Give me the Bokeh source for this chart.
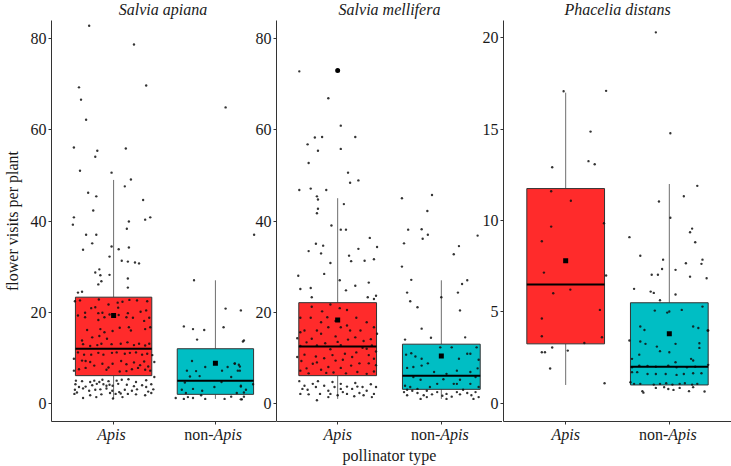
from bokeh.plotting import figure
from bokeh.models import Range1d, FixedTicker
from bokeh.layouts import row, column
from bokeh.core.properties import value
from bokeh.embed import file_html
from bokeh.resources import INLINE

FONT = "Liberation Serif"

categories = ["Apis", "non-Apis"]
species = ["Salvia apiana", "Salvia mellifera", "Phacelia distans"]
x_title = "pollinator type"
y_title = "flower visits per plant"
cat_pos = [1, 2]
box_colors = ["#FF2B2B", "#00BEC4"]

# box statistics [Apis, non-Apis]
sa_q1 = [6.1, 2.0]; sa_med = [12.0, 5.0]; sa_q3 = [23.3, 12.0]
sa_lo = [1.0, 1.0]; sa_hi = [49.0, 27.0]; sa_mean = [19.3, 8.8]

sm_q1 = [6.1, 3.1]; sm_med = [12.5, 6.1]; sm_q3 = [22.1, 13.0]
sm_lo = [1.0, 1.0]; sm_hi = [45.0, 27.0]; sm_mean = [18.3, 10.4]
sm_outlier_cat = [1]; sm_outlier_v = [73.0]

pd_q1 = [3.25, 1.0]; pd_med = [6.5, 2.0]; pd_q3 = [11.75, 5.5]
pd_lo = [1.0, 1.0]; pd_hi = [17.0, 12.0]; pd_mean = [7.8, 3.8]

# jittered observations: (jitter offset, visits)
sa_apis_pts = [
    (-0.24, 82.8), (0.2, 78.7), (-0.34, 69.3), (0.32, 69.7), (-0.32, 66.6), (-0.27, 62.2), (-0.39, 56.1),
    (0.12, 55.9), (-0.16, 55.4), (-0.18, 54.1), (-0.33, 51.0), (-0.02, 50.6), (0.17, 49.1), (0.11, 47.6),
    (-0.25, 46.2), (-0.17, 45.4), (0.29, 44.6), (-0.2, 42.3), (-0.39, 40.8), (0.36, 40.8), (0.31, 40.3),
    (0.15, 39.9), (-0.4, 39.2), (0.13, 38.3), (-0.27, 37.0), (-0.17, 37.0), (-0.21, 35.1), (-0.02, 34.4),
    (0.15, 34.2), (-0.3, 33.7), (0.05, 33.8), (-0.04, 32.2), (0.08, 31.3), (0.14, 31.1), (0.21, 30.9),
    (0.25, 30.7), (-0.14, 29.4), (-0.18, 28.7), (-0.04, 28.2), (-0.13, 28.1), (0.14, 27.4), (-0.12, 26.8),
    (-0.15, 26.1), (0.14, 25.4), (-0.35, 24.3), (-0.31, 24.5),
    (-0.38, 22.4), (-0.33, 22.6), (-0.22, 20.9), (-0.18, 21.1), (-0.145, 22.8), (-0.05, 21.7), (0.04, 22.1),
    (0.087, 22.3), (0.155, 22.7), (0.23, 22.6), (0.33, 22.4), (-0.28, 19.9), (-0.15, 19.8), (-0.11, 19.9),
    (0.045, 21.0), (0.05, 19.4), (0.14, 19.8), (0.265, 20.1), (0.32, 20.4), (0.35, 18.8), (-0.35, 19.3),
    (-0.28, 18.9), (-0.15, 18.3), (-0.09, 18.9), (-0.04, 19.5), (0.126, 18.9), (0.19, 18.8), (0.30, 18.1),
    (0.36, 16.7), (-0.26, 16.1), (-0.13, 16.3), (-0.09, 15.6), (-0.01, 15.9), (0.06, 16.6), (0.15, 16.7),
    (0.17, 16.0), (0.31, 16.3), (-0.21, 14.5), (-0.14, 14.8), (-0.065, 14.2), (-0.31, 13.8), (-0.30, 13.0),
    (-0.23, 12.6), (-0.16, 12.8), (-0.12, 13.1), (-0.02, 13.0), (0.07, 13.1), (0.136, 13.4), (0.2, 12.8),
    (0.25, 13.1), (0.31, 12.7), (0.35, 13.1), (-0.35, 11.2), (-0.29, 10.7), (-0.22, 10.7), (-0.15, 11.1),
    (-0.10, 10.7), (-0.016, 11.1), (0.03, 11.2), (0.11, 10.9), (0.16, 11.1), (0.22, 11.2), (0.28, 10.7),
    (0.33, 10.9), (0.38, 10.6), (-0.39, 9.8), (-0.31, 9.4), (-0.275, 9.3), (-0.23, 9.1), (-0.19, 8.3),
    (-0.11, 8.7), (-0.05, 7.9), (-0.01, 8.7), (0.074, 9.3), (0.126, 8.6), (0.2, 9.0), (0.26, 8.4),
    (0.30, 9.2), (0.34, 8.1), (0.36, 7.2), (-0.39, 7.2), (-0.34, 7.5), (-0.275, 7.8), (-0.07, 7.4),
    (0.06, 7.0), (0.126, 7.1), (0.18, 7.5), (0.24, 7.8), (0.31, 7.4), (0.40, 9.1),
    (-0.37, 5.0), (-0.31, 4.9), (-0.23, 4.7), (-0.19, 5.0), (-0.14, 4.7), (-0.11, 5.2), (-0.05, 4.9),
    (0.03, 5.0), (0.08, 5.2), (0.146, 5.3), (0.22, 4.7), (0.32, 5.1), (0.40, 5.8), (-0.375, 4.2),
    (-0.34, 3.6), (-0.275, 3.7), (-0.21, 4.0), (-0.165, 4.3), (-0.10, 4.2), (-0.07, 3.9), (-0.04, 4.1),
    (-0.01, 3.9), (0.045, 4.3), (0.13, 4.1), (0.2, 3.8), (0.28, 4.0), (0.32, 3.6), (0.37, 4.2),
    (-0.38, 3.0), (-0.30, 3.3), (-0.24, 2.8), (-0.18, 3.0), (-0.13, 3.1), (-0.07, 3.3), (-0.013, 2.8),
    (0.055, 2.5), (0.11, 3.0), (0.18, 2.8), (0.23, 3.1), (0.34, 2.6), (0.39, 3.1), (-0.385, 2.1),
    (-0.36, 2.4), (-0.30, 1.2), (-0.23, 1.8), (-0.12, 2.0), (-0.035, 2.3), (0.02, 2.1), (0.07, 2.2),
    (0.14, 2.1), (0.22, 2.0), (0.31, 1.8), (0.37, 2.3), (-0.17, 1.4), (0.087, 1.4), (-0.006, 1.1),
]
sa_non_pts = [
    (0.1, 64.9), (0.38, 37.0), (-0.21, 27.0), (0.1, 20.8), (0.25, 20.4), (-0.31, 16.9), (-0.22, 16.3),
    (-0.11, 16.1), (0.08, 16.7), (-0.18, 14.0), (0.28, 13.8), (0.27, 13.6),
    (-0.23, 9.3), (-0.28, 7.2), (-0.19, 7.1), (-0.155, 6.0), (-0.25, 5.9), (-0.3, 4.6), (-0.22, 3.2),
    (-0.33, 3.0), (-0.29, 2.3), (-0.13, 2.8), (0.065, 7.2), (0.12, 8.0), (0.19, 8.7), (0.23, 8.5),
    (0.24, 7.2), (0.155, 5.8), (0.25, 3.7), (0.3, 3.0), (0.21, 2.3), (-0.01, 3.6), (-0.1, 8.0),
    (0.06, 4.7), (0.19, 8.8), (0.24, 8.1), (0.22, 7.2), (0.37, 4.2), (0.25, 3.9), (0.28, 2.4),
    (0.26, 0.9), (0.28, 1.5),
    (-0.39, 1.2), (-0.31, 1.0), (-0.22, 1.2), (-0.1, 1.0), (0.09, 1.0), (0.25, 0.9), (-0.14, 1.8),
    (-0.27, 1.4), (0.155, 1.5),
]
sm_apis_pts = [
    (-0.37, 72.8), (-0.09, 66.9), (0.03, 60.9), (-0.29, 56.8), (-0.22, 58.3), (-0.15, 58.4), (0.17, 58.4),
    (-0.19, 55.4), (0.03, 55.8), (-0.28, 52.7), (0.1, 50.6), (0.2, 48.9), (0.12, 48.4), (-0.37, 46.8),
    (-0.26, 47.1), (-0.11, 46.8), (-0.2, 45.4), (-0.19, 44.7), (0.06, 43.7), (-0.19, 42.7), (-0.2, 41.7),
    (-0.06, 39.0), (0.03, 38.1), (0.08, 38.1),
    (-0.21, 35.0), (-0.14, 34.6), (-0.28, 33.4), (-0.16, 32.9), (0.11, 32.4), (0.2, 33.9), (0.31, 36.3),
    (0.38, 34.3), (0.13, 31.2), (0.26, 31.3), (0.35, 31.6), (-0.07, 30.8), (-0.38, 28.0), (-0.13, 28.4),
    (-0.36, 25.1), (-0.26, 25.3), (0.3, 26.5), (0.17, 25.8), (0.02, 27.0), (0.08, 24.8), (0.29, 23.3),
    (0.35, 22.9), (0.37, 23.6), (-0.25, 23.3),
    (-0.25, 21.2), (-0.07, 21.7), (0.02, 20.9), (-0.15, 20.2), (0.09, 20.5), (-0.36, 18.8), (-0.26, 18.8),
    (-0.02, 18.1), (0.18, 18.8), (0.28, 17.8), (0.35, 16.7), (-0.39, 14.3), (-0.25, 14.2), (-0.16, 15.3),
    (-0.09, 16.7), (-0.02, 14.7), (0.12, 16.0), (0.17, 14.5), (0.25, 13.7), (0.32, 14.1), (-0.36, 12.6),
    (-0.2, 12.7), (-0.07, 11.9), (0.03, 12.8), (0.07, 10.9), (0.18, 11.2), (0.3, 10.6), (0.37, 11.4),
    (-0.35, 9.3), (-0.3, 7.7), (-0.24, 8.7), (-0.16, 7.4), (-0.09, 8.0), (-0.02, 9.4), (0.03, 7.8),
    (0.13, 8.3), (0.21, 8.8), (0.3, 8.8), (0.37, 8.4), (-0.36, 7.2), (-0.28, 6.6), (-0.11, 6.7),
    (-0.04, 6.8), (0.08, 6.6), (0.19, 6.9), (0.28, 6.5), (0.35, 7.0), (-0.39, 10.2), (-0.32, 10.7),
    (-0.21, 10.3), (-0.13, 9.9), (-0.05, 10.6), (0.14, 10.2), (0.24, 12.2), (0.33, 12.7), (-0.16, 17.8),
    (-0.1, 18.9), (0.09, 17.1), (-0.2, 16.0), (-0.32, 16.0), (0.22, 16.0), (0.03, 16.7), (0.38, 15.3),
    (-0.36, 15.6), (-0.3, 13.4), (0.0, 13.5), (0.1, 14.0), (0.28, 12.0), (-0.12, 13.2), (0.35, 9.8),
    (-0.2, 9.0), (0.05, 9.6),
    (-0.37, 4.9), (-0.32, 3.9), (-0.29, 3.0), (-0.24, 4.3), (-0.21, 3.6), (-0.17, 2.1), (-0.13, 3.9),
    (-0.09, 2.8), (-0.05, 4.7), (-0.03, 3.6), (0.03, 4.3), (0.05, 2.5), (0.09, 3.7), (0.14, 3.2),
    (0.17, 4.5), (0.21, 2.3), (0.24, 3.6), (0.28, 2.8), (0.32, 4.2), (0.35, 2.1), (0.37, 3.6),
    (-0.36, 2.1), (-0.28, 2.0), (-0.2, 0.7), (-0.07, 2.1), (0.0, 1.8), (0.09, 2.1), (0.16, 1.6),
    (0.25, 1.8), (0.33, 1.4), (-0.34, 3.2), (-0.09, 1.4), (0.19, 3.7), (-0.19, 4.9), (0.03, 3.2),
]
sm_non_pts = [
    (-0.38, 45.0), (-0.09, 45.7), (-0.135, 42.2), (-0.19, 38.2), (-0.32, 38.1),
    (-0.36, 35.1), (-0.18, 36.1), (-0.13, 37.0), (0.35, 36.8), (0.17, 34.5), (0.12, 32.7), (-0.38, 30.0),
    (-0.29, 27.1), (0.25, 27.0), (0.2, 26.2), (-0.33, 24.3), (0.16, 24.3), (0.0, 23.3), (-0.3, 22.4),
    (-0.23, 21.1), (0.18, 20.4), (-0.19, 16.4), (-0.1, 14.4), (0.23, 14.5), (-0.35, 14.0),
    (-0.29, 11.0), (-0.34, 10.7), (-0.25, 10.3), (-0.19, 9.8), (-0.13, 8.8), (-0.33, 7.8), (-0.27, 8.0),
    (-0.19, 8.3), (-0.01, 12.3), (0.1, 12.3), (0.17, 9.8), (0.25, 10.9), (0.28, 10.9), (0.34, 12.3),
    (0.36, 9.6), (0.35, 7.7), (0.15, 7.2), (0.05, 6.5), (0.02, 5.3), (0.12, 4.3), (0.18, 5.2),
    (0.15, 4.3), (-0.07, 6.9), (-0.27, 5.8), (-0.2, 5.2), (-0.35, 3.9), (-0.3, 3.6), (-0.23, 3.2),
    (-0.11, 3.6), (-0.04, 4.3), (0.28, 6.9), (0.33, 5.8), (0.28, 4.3), (0.36, 3.6),
    (-0.36, 2.5), (-0.33, 1.8), (-0.28, 2.8), (-0.23, 2.3), (-0.17, 1.8), (-0.14, 1.4), (-0.09, 2.0),
    (-0.04, 2.5), (0.01, 1.7), (0.05, 2.1), (0.1, 1.5), (0.15, 2.5), (0.18, 2.0), (0.25, 2.3),
    (0.29, 1.8), (0.33, 2.5), (0.36, 1.4), (-0.2, 1.0), (0.05, 1.0), (0.31, 1.0), (-0.33, 3.0),
    (-0.14, 2.8), (0.21, 3.0),
]
pd_apis_pts = [
    (-0.02, 17.08), (0.39, 17.1), (0.24, 14.87), (-0.13, 12.92), (0.22, 13.25), (0.28, 13.08), (-0.14, 11.6),
    (0.05, 11.08), (-0.14, 9.67), (0.37, 9.85), (-0.23, 8.87), (-0.21, 7.15), (-0.12, 6.02), (0.045, 6.22),
    (0.33, 5.11), (0.39, 6.99), (-0.23, 4.64), (-0.23, 3.67), (0.35, 3.61), (0.18, 3.30), (-0.13, 3.05),
    (-0.23, 2.79), (-0.2, 2.79), (0.02, 2.88), (-0.15, 1.90), (0.375, 1.09),
]
pd_non_pts = [
    (-0.13, 20.3), (0.01, 14.78), (-0.1, 11.04), (0.14, 11.33), (0.27, 11.9), (0.01, 10.15), (0.22, 9.56),
    (-0.385, 9.09), (0.2, 9.36), (0.25, 8.81), (-0.28, 8.07), (-0.06, 7.86), (0.16, 7.66), (0.32, 7.86),
    (0.31, 7.63), (-0.07, 7.35), (0.06, 7.3), (-0.17, 7.03), (-0.11, 7.03), (0.2, 6.93), (0.36, 6.84),
    (-0.34, 6.26), (-0.18, 6.11), (-0.15, 6.04), (0.06, 5.95), (-0.09, 5.64), (-0.14, 5.07), (-0.02, 4.96),
    (0.0, 5.02), (0.12, 5.11), (0.32, 5.29), (-0.28, 4.2), (-0.24, 4.01), (0.23, 4.2), (0.28, 4.12),
    (0.375, 3.98), (-0.385, 3.43), (-0.28, 3.38), (-0.23, 3.25), (-0.12, 3.1), (0.06, 3.25), (0.29, 3.28),
    (0.29, 3.03), (-0.36, 2.43), (-0.29, 2.66), (-0.09, 2.85), (0.0, 2.79), (0.21, 2.43), (0.23, 2.34),
    (0.06, 2.24), (-0.36, 1.97), (-0.29, 2.06), (-0.21, 2.04), (-0.13, 2.0), (-0.01, 2.06), (0.07, 1.97),
    (0.17, 1.97), (0.25, 2.0), (0.375, 2.1), (-0.36, 1.7), (-0.31, 1.7), (-0.21, 1.6), (-0.13, 1.6),
    (-0.035, 1.6), (0.07, 1.55), (0.14, 1.6), (0.23, 1.64), (0.31, 1.64), (-0.375, 1.15), (-0.34, 1.06),
    (-0.28, 1.06), (-0.15, 1.02), (-0.09, 1.06), (-0.03, 1.09), (0.03, 1.02), (0.1, 1.06), (0.15, 1.09),
    (0.22, 1.02), (0.27, 1.06), (-0.26, 0.66), (-0.25, 0.58), (-0.13, 0.84), (-0.05, 0.88), (0.04, 0.73),
    (0.1, 0.84), (0.19, 0.66), (0.23, 0.88), (0.34, 0.64), (-0.01, 0.78), (0.37, 3.98),
]

AX = "#333333"
TXT = "#1a1a1a"
BOX_W = 0.75
FS = "16px"
TOP_H = 20      # strip holding the panel titles
MAIN_H = 406    # panels
BOT_H = 39      # strip holding category labels and x title


def bare(fig):
    fig.border_fill_color = None
    fig.background_fill_color = None
    fig.outline_line_color = None
    fig.xgrid.visible = False
    fig.ygrid.visible = False


def make_panel(q1, med, q3, lo, hi, mean, pts, yr, yticks, xr, border_left, width,
               ylabel=None, outliers=None):
    p = figure(width=width, height=MAIN_H, output_backend="svg", toolbar_location=None,
               x_range=xr, y_range=Range1d(*yr),
               min_border_left=border_left, min_border_right=0, min_border_top=0,
               min_border_bottom=5)
    bare(p)
    for ax in (p.xaxis[0], p.yaxis[0]):
        ax.axis_line_color = AX
        ax.axis_line_width = 1
        ax.major_tick_line_color = AX
        ax.major_tick_out = 3
        ax.major_tick_in = 0
        ax.minor_tick_line_color = None
    p.xaxis.ticker = FixedTicker(ticks=cat_pos)
    p.xaxis.major_label_overrides = {1: "", 2: ""}
    p.xaxis.major_label_text_font_size = "0px"
    p.xaxis.major_label_standoff = 0
    p.yaxis.ticker = FixedTicker(ticks=yticks)
    p.yaxis.major_label_text_font = FONT
    p.yaxis.major_label_text_font_size = "16px"
    p.yaxis.major_label_text_color = TXT
    p.yaxis.major_label_standoff = 2
    if ylabel:
        p.yaxis.axis_label = ylabel
        p.yaxis.axis_label_text_font = FONT
        p.yaxis.axis_label_text_font_size = FS
        p.yaxis.axis_label_text_font_style = "normal"
        p.yaxis.axis_label_text_color = TXT
        p.yaxis.axis_label_standoff = 7

    left = [c - BOX_W / 2 for c in cat_pos]
    right = [c + BOX_W / 2 for c in cat_pos]
    p.segment(x0=cat_pos, x1=cat_pos, y0=q3, y1=hi, line_color="#6e6e6e", line_width=1)
    p.segment(x0=cat_pos, x1=cat_pos, y0=lo, y1=q1, line_color="#6e6e6e", line_width=1)
    p.quad(left=left, right=right, bottom=q1, top=q3, fill_color=box_colors,
           line_color=AX, line_width=1)
    for c, group in zip(cat_pos, pts):
        xs = [c + d for d, _ in group]
        ys = [v for _, v in group]
        p.scatter(x=xs, y=ys, marker="circle", size=2.4, fill_color="#111111",
                  line_color=None, fill_alpha=0.85)
    p.segment(x0=left, x1=right, y0=med, y1=med, line_color="#000000", line_width=2)
    p.scatter(x=cat_pos, y=mean, marker="square", size=5, fill_color="#000000", line_color=None)
    if outliers:
        p.scatter(x=outliers[0], y=outliers[1], marker="circle", size=5,
                  fill_color="#000000", line_color=None)
    return p


def make_strip(xr, border_left, width, height):
    s = figure(width=width, height=height, output_backend="svg", toolbar_location=None,
               x_range=xr, y_range=Range1d(height, 0),
               min_border_left=border_left, min_border_right=0, min_border_top=0,
               min_border_bottom=0)
    bare(s)
    s.xaxis.visible = False
    s.yaxis.visible = False
    return s


def title_strip(xr, border_left, width, name):
    s = make_strip(xr, border_left, width, TOP_H)
    s.text(x=[sum(cat_pos) / 2], y=[9], text=[name], text_font=value(FONT),
           text_font_size=FS, text_font_style="italic", text_align="center",
           text_baseline="middle", text_color=TXT)
    return s


def label_strip(xr, border_left, width, xlabel=None):
    s = make_strip(xr, border_left, width, BOT_H)
    s.text(x=[cat_pos[0]], y=[8], text=[categories[0]], text_font=value(FONT),
           text_font_size=FS, text_font_style="italic", text_align="center",
           text_baseline="middle", text_color=TXT)
    s.text(x=[cat_pos[1]], y=[8], x_offset=-1, text=["non-"], text_font=value(FONT),
           text_font_size=FS, text_font_style="normal", text_align="right",
           text_baseline="middle", text_color=TXT)
    s.text(x=[cat_pos[1]], y=[8], x_offset=-1, text=["Apis"], text_font=value(FONT),
           text_font_size=FS, text_font_style="italic", text_align="left",
           text_baseline="middle", text_color=TXT)
    if xlabel:
        s.text(x=[sum(cat_pos) / 2], y=[29], text=[xlabel], text_font=value(FONT),
               text_font_size=FS, text_font_style="normal", text_align="center",
               text_baseline="middle", text_color=TXT)
    return s


xr1 = Range1d(0.39, 2.6)
xr2 = Range1d(0.41, 2.59)
xr3 = Range1d(0.4, 2.6)
widths = [276, 256, 258]
borders = [48, 30, 30]
margins = [None, (0, 0, 0, -30), (0, 0, 0, -29)]

p1 = make_panel(sa_q1, sa_med, sa_q3, sa_lo, sa_hi, sa_mean, [sa_apis_pts, sa_non_pts],
                (-3.95, 83.95), [0, 20, 40, 60, 80], xr1, borders[0], widths[0], ylabel=y_title)
p2 = make_panel(sm_q1, sm_med, sm_q3, sm_lo, sm_hi, sm_mean, [sm_apis_pts, sm_non_pts],
                (-3.95, 83.95), [0, 20, 40, 60, 80], xr2, borders[1], widths[1],
                outliers=(sm_outlier_cat, sm_outlier_v))
p3 = make_panel(pd_q1, pd_med, pd_q3, pd_lo, pd_hi, pd_mean, [pd_apis_pts, pd_non_pts],
                (-1.0, 20.95), [0, 5, 10, 15, 20], xr3, borders[2], widths[2])

t1 = title_strip(xr1, borders[0], widths[0], species[0])
t2 = title_strip(xr2, borders[1], widths[1], species[1])
t3 = title_strip(xr3, borders[2], widths[2], species[2])

b1 = label_strip(xr1, borders[0], widths[0])
b2 = label_strip(xr2, borders[1], widths[1], xlabel=x_title)
b3 = label_strip(xr3, borders[2], widths[2])

for trio in ((t1, t2, t3), (p1, p2, p3), (b1, b2, b3)):
    for fig, m in zip(trio, margins):
        if m is not None:
            fig.margin = m

layout = column(row(t1, t2, t3), row(p1, p2, p3), row(b1, b2, b3))
open("out.html", "w").write(file_html(layout, INLINE))
